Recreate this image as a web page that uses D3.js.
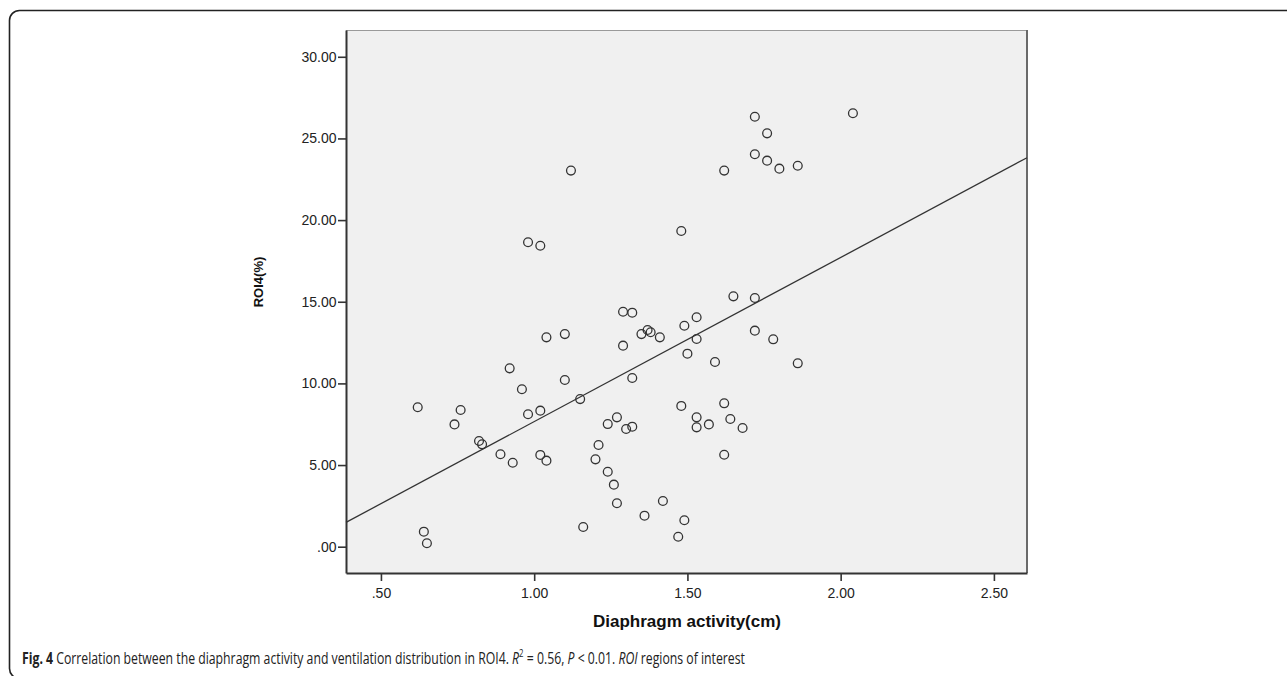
<!DOCTYPE html>
<html>
<head>
<meta charset="utf-8">
<script src="https://cdn.jsdelivr.net/npm/d3@7"></script>
<style>
  body { margin: 0; background: #fff; }
  svg { display: block; }
</style>
</head>
<body>
<svg width="1287" height="676"></svg>
<script>
// diaphragm activity (cm) and ROI4 (%) for each subject
const activity = [
  0.62, 0.64, 0.65, 0.74, 0.76, 0.82, 0.83, 0.89, 0.92, 0.93,
  0.96, 0.98, 1.02, 1.02, 1.04, 1.04, 1.10, 1.10, 1.15, 1.16,
  1.20, 1.21, 1.24, 1.24, 1.26, 1.27, 1.27, 1.29, 1.29, 1.30,
  1.32, 1.32, 1.32, 1.35, 1.36, 1.37, 1.38, 1.41, 1.42, 1.47,
  1.48, 1.49, 1.49, 1.50, 1.53, 1.53, 1.53, 1.53, 1.57, 1.59,
  1.62, 1.62, 1.64, 1.65, 1.68, 1.72, 1.72, 1.78, 1.86,
  1.12, 0.98, 1.02, 1.48, 1.62, 1.72, 1.72, 1.76, 1.76, 2.04,
  1.80, 1.86
];
const roi4 = [
  8.54, 0.92, 0.21, 7.49, 8.37, 6.47, 6.27, 5.66, 10.92, 5.14,
  9.64, 8.11, 8.33, 5.62, 5.27, 12.82, 13.02, 10.21, 9.04, 1.21,
  5.35, 6.23, 7.51, 4.59, 3.80, 2.66, 7.92, 14.39, 12.31, 7.21,
  14.33, 10.33, 7.35, 13.02, 1.90, 13.27, 13.13, 12.82, 2.80, 0.61,
  8.62, 13.53, 1.62, 11.82, 14.05, 12.72, 7.92, 7.31, 7.49, 11.31,
  8.78, 5.63, 7.82, 15.33, 7.27, 15.23, 13.23, 12.70, 11.23,
  23.03, 18.64, 18.43, 19.33, 23.03, 26.33, 24.03, 25.31, 23.64, 26.54,
  23.15, 23.33
];

const xTicks = [0.5, 1.0, 1.5, 2.0, 2.5];
const yTicks = [0, 5, 10, 15, 20, 25, 30];

// fit line: ROI4 = intercept + slope * activity
const fitIntercept = -2.39;
const fitSlope = 10.05;

const plotLeft = 346, plotRight = 1027, plotTop = 30, plotBottom = 573;

const svg = d3.select('svg');

// rounded frame around the figure
svg.append('rect')
  .attr('x', 9.5).attr('y', 10.5)
  .attr('width', 1400).attr('height', 668)
  .attr('rx', 10)
  .attr('fill', 'none')
  .attr('stroke', '#222')
  .attr('stroke-width', 1.6);

const x = d3.scaleLinear().domain([0.386, 2.608]).range([plotLeft, plotRight]);
const y = d3.scaleLinear().domain([-1.61, 31.64]).range([plotBottom, plotTop]);

// plot background
svg.append('rect')
  .attr('x', plotLeft).attr('y', plotTop)
  .attr('width', plotRight - plotLeft).attr('height', plotBottom - plotTop)
  .attr('fill', '#f0f0f0');

// top and right border (lighter)
svg.append('line')
  .attr('x1', plotLeft).attr('x2', plotRight)
  .attr('y1', plotTop + 0.5).attr('y2', plotTop + 0.5)
  .attr('stroke', '#9a9a9a')
  .attr('stroke-width', 1);
svg.append('line')
  .attr('x1', plotRight).attr('x2', plotRight)
  .attr('y1', plotTop).attr('y2', plotBottom)
  .attr('stroke', '#6a6a6a')
  .attr('stroke-width', 2);

const xAxis = svg.append('g')
  .attr('transform', `translate(0,${plotBottom})`)
  .call(d3.axisBottom(x).tickValues(xTicks).tickSize(8).tickSizeOuter(0)
    .tickFormat(d => d3.format('.2f')(d).replace(/^0/, '')));

const yAxis = svg.append('g')
  .attr('transform', `translate(${plotLeft},0)`)
  .call(d3.axisLeft(y).tickValues(yTicks).tickSize(8).tickSizeOuter(0)
    .tickFormat(d => d === 0 ? '.00' : d3.format('.2f')(d)));

[xAxis, yAxis].forEach(g => {
  g.select('.domain').attr('stroke', '#333').attr('stroke-width', 2);
  g.selectAll('.tick line').attr('stroke', '#333').attr('stroke-width', 1.6);
  g.selectAll('.tick text')
    .attr('fill', '#222')
    .attr('font-family', 'Liberation Sans, Arial, sans-serif')
    .attr('font-size', 14);
});
xAxis.selectAll('.tick text').attr('dy', '1.0em');
yAxis.selectAll('.tick text').attr('x', -9.5);

// regression line across the plot
const xd = x.domain();
svg.append('line')
  .attr('x1', x(xd[0])).attr('y1', y(fitIntercept + fitSlope * xd[0]))
  .attr('x2', x(xd[1])).attr('y2', y(fitIntercept + fitSlope * xd[1]))
  .attr('stroke', '#333')
  .attr('stroke-width', 1.3);

// observations
svg.append('g')
  .selectAll('circle')
  .data(activity.map((a, i) => [a, roi4[i]]))
  .join('circle')
  .attr('cx', d => x(d[0]))
  .attr('cy', d => y(d[1]))
  .attr('r', 4.4)
  .attr('fill', 'none')
  .attr('stroke', '#333')
  .attr('stroke-width', 1.3);

// axis titles
svg.append('text')
  .attr('x', 687).attr('y', 627)
  .attr('text-anchor', 'middle')
  .attr('font-family', 'Liberation Sans, Arial, sans-serif')
  .attr('font-weight', 'bold')
  .attr('font-size', 17)
  .attr('fill', '#111')
  .text('Diaphragm activity(cm)');

svg.append('text')
  .attr('transform', `translate(263,282) rotate(-90)`)
  .attr('text-anchor', 'middle')
  .attr('font-family', 'Liberation Sans, Arial, sans-serif')
  .attr('font-weight', 'bold')
  .attr('font-size', 13)
  .attr('fill', '#111')
  .text('ROI4(%)');

// caption, squeezed to the width it takes in the figure
const cap = svg.append('text')
  .attr('y', 664)
  .attr('font-family', 'Open Sans, sans-serif')
  .attr('font-size', 16.5)
  .attr('fill', '#222');
cap.append('tspan').attr('font-weight', 'bold').text('Fig. 4');
cap.append('tspan').text(' Correlation between the diaphragm activity and ventilation distribution in ROI4. ');
cap.append('tspan').attr('font-style', 'italic').text('R');
cap.append('tspan').attr('font-size', 10.5).attr('dy', -7).text('2');
cap.append('tspan').attr('dy', 7).text(' = 0.56, ');
cap.append('tspan').attr('font-style', 'italic').text('P');
cap.append('tspan').text(' < 0.01. ');
cap.append('tspan').attr('font-style', 'italic').text('ROI');
cap.append('tspan').text(' regions of interest');
const capW = cap.node().getComputedTextLength();
cap.attr('transform', `translate(22,0) scale(${724 / capW},1)`);
</script>
</body>
</html>
